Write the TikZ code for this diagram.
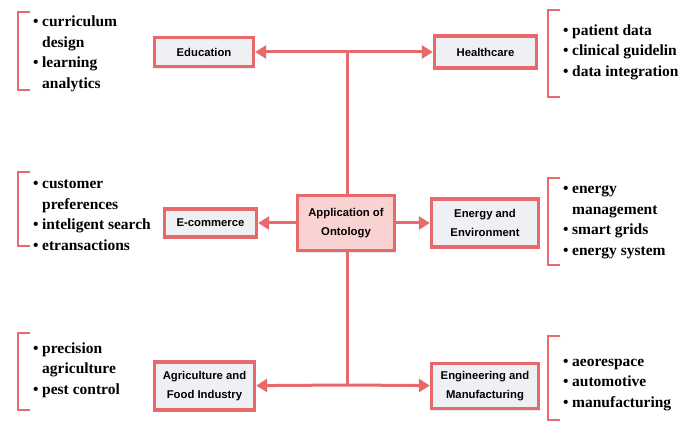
\documentclass[tikz,border=0pt]{standalone}
\usepackage{fontspec}
\setmainfont{Liberation Serif}
\newfontfamily\boxfont{Liberation Sans}
\usetikzlibrary{arrows.meta,shadows}
\definecolor{ontored}{HTML}{E8696B}
\definecolor{boxgray}{HTML}{EEF0F4}
\definecolor{ontopink}{HTML}{F9D2D2}
\newcommand{\bul}{\makebox[9pt][l]{\textbullet}}
\newcommand{\ind}{\hspace*{9pt}}
\tikzset{
  area/.style={draw=ontored, line width=3.4pt, fill=boxgray, align=center,
    font=\boxfont\bfseries\fontsize{11.3}{19}\selectfont, inner sep=0pt,
    drop shadow={opacity=0.18, shadow xshift=1pt, shadow yshift=-2.5pt}},
  link/.style={draw=ontored, line width=3pt, -{Triangle[length=11pt,width=13pt]}},
  items/.style={align=left, anchor=west, inner sep=0pt,
    font=\bfseries\fontsize{15.5}{20.5}\selectfont},
  brace/.style={draw=ontored, line width=1.5pt}
}
\begin{document}
\begin{tikzpicture}[x=1pt,y=-1pt]
\useasboundingbox[fill=white] (0,0) rectangle (697,422);
% trunk behind the hub
\coordinate (top) at (347,52);
\coordinate (bot) at (347,385);
\draw[ontored, line width=3pt] (top) -- (bot);
% fields
\node[area, minimum width=99pt, minimum height=29pt] (edu) at (204,52) {Education};
\node[area, minimum width=102pt, minimum height=32pt] (health) at (485.5,52) {Healthcare};
\node[area, fill=ontopink, minimum width=97pt, minimum height=55pt] (hub) at (346,223) {Application of\\Ontology};
\node[area, minimum width=92pt, minimum height=28pt] (ecom) at (210.5,223) {E-commerce};
\node[area, minimum width=107pt, minimum height=48pt] (energy) at (485,223) {Energy and\\Environment};
\node[area, minimum width=100pt, minimum height=48pt] (agri) at (204.5,386) {Agriculture and\\Food Industry};
\node[area, minimum width=107pt, minimum height=45pt] (engr) at (485,386) {Engineering and\\Manufacturing};
% arrows
\draw[link] (top) -- (edu);
\draw[link] (top) -- (health);
\draw[link] (hub) -- (ecom);
\draw[link] (hub) -- (energy);
\draw[link] (bot) -- (agri);
\draw[link] (bot) -- (engr);
% lists
\node[items] (l1) at (33,54) {\bul curriculum\\\ind design\\\bul learning\\\ind analytics};
\node[items] (l2) at (563,52) {\bul patient data\\\bul clinical guidelin\\\bul data integration};
\node[items] (l3) at (33,215) {\bul customer\\\ind preferences\\\bul inteligent search\\\bul etransactions};
\node[items] (l4) at (563,222) {\bul energy\\\ind management\\\bul smart grids\\\bul energy system};
\node[items] (l5) at (33,370) {\bul precision\\\ind agriculture\\\bul pest control};
\node[items] (l6) at (563,385) {\bul aeorespace\\\bul automotive\\\bul manufacturing};
% brackets
\draw[brace] (30,12) -| (18,90) -- (30,90);
\draw[brace] (560,10) -| (548,97) -- (560,97);
\draw[brace] (30,172) -| (18,246) -- (30,246);
\draw[brace] (560,178) -| (548,265) -- (560,265);
\draw[brace] (30,333) -| (18,410) -- (30,410);
\draw[brace] (560,336) -| (548,420) -- (560,420);
\end{tikzpicture}
\end{document}
